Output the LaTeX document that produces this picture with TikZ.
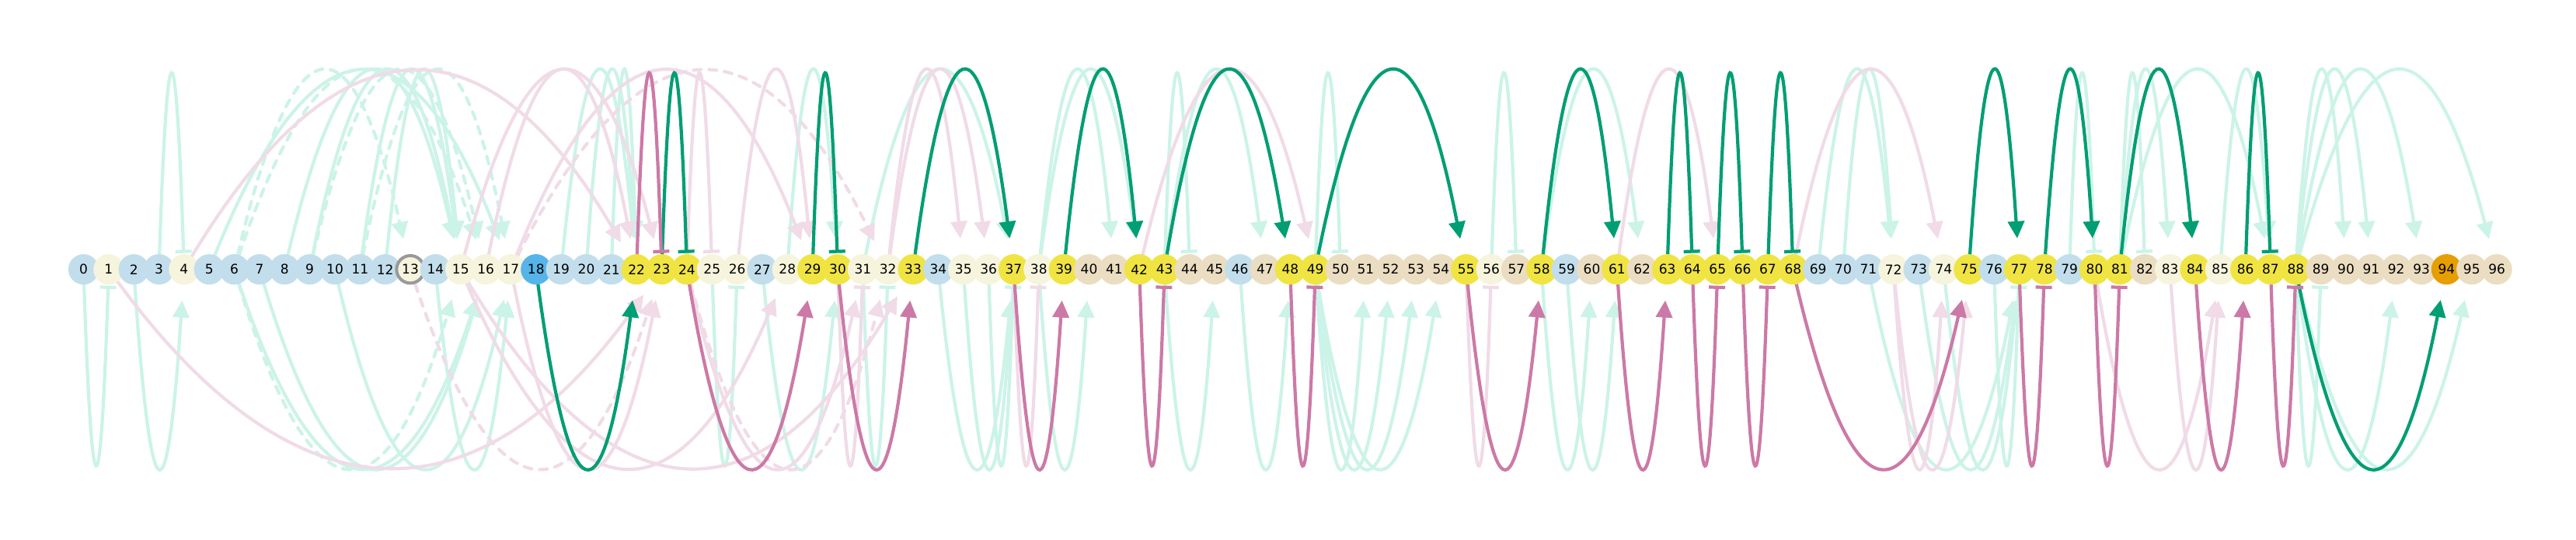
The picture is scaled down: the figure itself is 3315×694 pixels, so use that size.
\documentclass[tikz,border=0pt]{standalone}
\usepackage{fontspec}
\setmainfont{DejaVu Sans}
\usetikzlibrary{arrows.meta,calc}
\definecolor{lbC}{HTML}{C2DEEC}
\definecolor{crC}{HTML}{F6F4DC}
\definecolor{yeC}{HTML}{F0E442}
\definecolor{tnC}{HTML}{EBDDC1}
\definecolor{sbC}{HTML}{56B4E9}
\definecolor{orC}{HTML}{E69F00}
\definecolor{rgC}{HTML}{999999}
\definecolor{fgC}{HTML}{CCF3E8}
\definecolor{fpC}{HTML}{F0DBE7}
\definecolor{sgC}{HTML}{009E73}
\definecolor{smC}{HTML}{CC79A7}
\pgfdeclarelayer{bg}
\pgfsetlayers{bg,main}
\newcommand\arcU[3]{\draw[#3] (n#1.center) .. controls ($(n#1.center)!1/3!(n#2.center)+(0,333.3)$) and ($(n#1.center)!2/3!(n#2.center)+(0,333.3)$) .. (n#2.center);}
\newcommand\arcD[3]{\draw[#3] (n#1.center) .. controls ($(n#1.center)!1/3!(n#2.center)+(0,-333.3)$) and ($(n#1.center)!2/3!(n#2.center)+(0,-333.3)$) .. (n#2.center);}
\tikzset{
  nd/.style={circle, minimum size=39.2pt, inner sep=0pt, text=black, font=\fontsize{17}{17}\selectfont},
  nlb/.style={fill=lbC}, ncr/.style={fill=crC}, nye/.style={fill=yeC},
  ntn/.style={fill=tnC}, nsb/.style={fill=sbC}, nor/.style={fill=orC},
  nring/.style={fill=crC, draw=rgC, line width=4pt, minimum size=35.4pt},
  lnk/.style={line width=4.2pt, line cap=round},
  fG/.style={lnk, draw=fgC, fill=none},
  fP/.style={lnk, draw=fpC, fill=none},
  sG/.style={lnk, draw=sgC, fill=none},
  sM/.style={lnk, draw=smC, fill=none},
  tipA/.style={-{Triangle[length=22pt,width=21pt]}, shorten >=40pt},
  tipB/.style={-{Bar[width=21pt]}, shorten >=21pt},
  dsh/.style={dash pattern=on 10pt off 10pt}
}
\begin{document}
\begin{tikzpicture}[x=1pt,y=1pt]
\useasboundingbox (0,-347.3) rectangle (3315,346.7);
\foreach \i/\s in {0/nlb,1/ncr,2/nlb,3/nlb,4/ncr,5/nlb,6/nlb,7/nlb,8/nlb,9/nlb,10/nlb,11/nlb,12/nlb,13/nring,14/nlb,15/ncr,16/ncr,17/ncr,18/nsb,19/nlb,20/nlb,21/nlb,22/nye,23/nye,24/nye,25/ncr,26/ncr,27/nlb,28/ncr,29/nye,30/nye,31/ncr,32/ncr,33/nye,34/nlb,35/ncr,36/ncr,37/nye,38/ncr,39/nye,40/ntn,41/ntn,42/nye,43/nye,44/ntn,45/ntn,46/nlb,47/ntn,48/nye,49/nye,50/ntn,51/ntn,52/ntn,53/ntn,54/ntn,55/nye,56/ncr,57/ntn,58/nye,59/nlb,60/ntn,61/nye,62/ntn,63/nye,64/nye,65/nye,66/nye,67/nye,68/nye,69/nlb,70/nlb,71/nlb,72/ncr,73/nlb,74/ncr,75/nye,76/nlb,77/nye,78/nye,79/nlb,80/nye,81/nye,82/ntn,83/ncr,84/nye,85/ncr,86/nye,87/nye,88/nye,89/ntn,90/ntn,91/ntn,92/ntn,93/ntn,94/nor,95/ntn,96/ntn}
  {\node[nd,\s] (n\i) at ({107.5+32.35*\i},0) {\i};}
\begin{pgfonlayer}{bg}
% faded green, top
\arcU{3}{4}{fG,tipB}
\arcU{5}{17}{fG,tipA}
\arcU{6}{13}{fG,tipA,dsh}
\arcU{6}{16}{fG,tipA,dsh}
\arcU{8}{15}{fG,tipA}
\arcU{9}{15}{fG,tipA}
\arcU{9}{16}{fG,tipA,dsh}
\arcU{11}{15}{fG,tipA}
\arcU{11}{17}{fG,tipA,dsh}
\arcU{12}{15}{fG,tipA}
\arcU{19}{22}{fG,tipA}
\arcU{20}{22}{fG,tipA}
\arcU{21}{22}{fG,tipA}
\arcU{28}{30}{fG,tipA}
\arcU{31}{37}{fG,tipA}
\arcU{38}{41}{fG,tipA}
\arcU{38}{42}{fG,tipA}
\arcU{43}{44}{fG,tipB}
\arcU{43}{47}{fG,tipA}
\arcU{49}{50}{fG,tipB}
\arcU{56}{57}{fG,tipB}
\arcU{58}{62}{fG,tipA}
\arcU{69}{72}{fG,tipA}
\arcU{70}{72}{fG,tipA}
\arcU{79}{80}{fG,tipB}
\arcU{81}{82}{fG,tipB}
\arcU{81}{83}{fG,tipA}
\arcU{81}{87}{fG,tipA}
\arcU{85}{87}{fG,tipA}
\arcU{88}{90}{fG,tipA}
\arcU{88}{91}{fG,tipA}
\arcU{88}{93}{fG,tipA}
\arcU{88}{96}{fG,tipA}
% faded pink, top
\arcU{4}{22}{fP,tipA}
\arcU{15}{23}{fP,tipA}
\arcU{16}{22}{fP,tipA}
\arcU{17}{29}{fP,tipA}
\arcU{17}{32}{fP,tipA,dsh}
\arcU{24}{25}{fP,tipB}
\arcU{26}{29}{fP,tipA}
\arcU{32}{35}{fP,tipA}
\arcU{32}{36}{fP,tipA}
\arcU{42}{49}{fP,tipA}
\arcU{61}{65}{fP,tipA}
\arcU{68}{74}{fP,tipA}
% faded green, bottom
\arcD{0}{1}{fG,tipB}
\arcD{2}{4}{fG,tipA}
\arcD{6}{15}{fG,tipA,dsh}
\arcD{6}{16}{fG,tipA}
\arcD{7}{16}{fG,tipA}
\arcD{10}{17}{fG,tipA}
\arcD{14}{17}{fG,tipA}
\arcD{25}{26}{fG,tipB}
\arcD{27}{30}{fG,tipA}
\arcD{31}{32}{fG,tipB}
\arcD{34}{37}{fG,tipA}
\arcD{35}{37}{fG,tipA}
\arcD{36}{37}{fG,tipB}
\arcD{38}{40}{fG,tipA}
\arcD{43}{45}{fG,tipA}
\arcD{46}{48}{fG,tipA}
\arcD{49}{51}{fG,tipA}
\arcD{49}{52}{fG,tipA}
\arcD{49}{53}{fG,tipA}
\arcD{49}{54}{fG,tipA}
\arcD{58}{60}{fG,tipA}
\arcD{59}{61}{fG,tipA}
\arcD{71}{77}{fG,tipA}
\arcD{73}{77}{fG,tipA}
\arcD{74}{77}{fG,tipA}
\arcD{76}{77}{fG,tipB}
\arcD{88}{89}{fG,tipB}
\arcD{88}{92}{fG,tipA}
\arcD{88}{95}{fG,tipA}
% faded pink, bottom
\arcD{1}{23}{fP,tipA}
\arcD{13}{23}{fP,tipA,dsh}
\arcD{15}{28}{fP,tipA}
\arcD{15}{33}{fP,tipA}
\arcD{17}{23}{fP,tipA}
\arcD{24}{31}{fP,tipA}
\arcD{24}{32}{fP,tipA,dsh}
\arcD{30}{31}{fP,tipB}
\arcD{37}{38}{fP,tipB}
\arcD{55}{56}{fP,tipB}
\arcD{72}{74}{fP,tipA}
\arcD{72}{75}{fP,tipA}
\arcD{80}{85}{fP,tipA}
\arcD{83}{85}{fP,tipA}
% strong green, top
\arcU{23}{24}{sG,tipB}
\arcU{29}{30}{sG,tipB}
\arcU{33}{37}{sG,tipA}
\arcU{39}{42}{sG,tipA}
\arcU{43}{48}{sG,tipA}
\arcU{49}{55}{sG,tipA}
\arcU{58}{61}{sG,tipA}
\arcU{63}{64}{sG,tipB}
\arcU{65}{66}{sG,tipB}
\arcU{67}{68}{sG,tipB}
\arcU{75}{77}{sG,tipA}
\arcU{78}{80}{sG,tipA}
\arcU{81}{84}{sG,tipA}
\arcU{86}{87}{sG,tipB}
% strong magenta, top
\arcU{22}{23}{sM,tipB}
% strong green, bottom
\arcD{18}{22}{sG,tipA}
\arcD{88}{94}{sG,tipA}
% strong magenta, bottom
\arcD{24}{29}{sM,tipA}
\arcD{30}{33}{sM,tipA}
\arcD{37}{39}{sM,tipA}
\arcD{42}{43}{sM,tipB}
\arcD{48}{49}{sM,tipB}
\arcD{55}{58}{sM,tipA}
\arcD{61}{63}{sM,tipA}
\arcD{64}{65}{sM,tipB}
\arcD{66}{67}{sM,tipB}
\arcD{68}{75}{sM,tipA}
\arcD{77}{78}{sM,tipB}
\arcD{80}{81}{sM,tipB}
\arcD{84}{86}{sM,tipA}
\arcD{87}{88}{sM,tipB}
\end{pgfonlayer}
\end{tikzpicture}
\end{document}
